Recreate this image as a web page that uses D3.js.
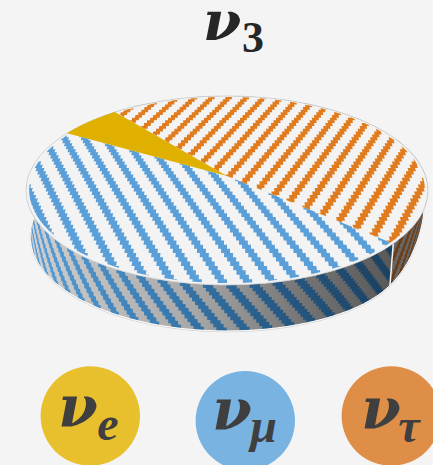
<!DOCTYPE html>
<html>
<head>
<meta charset="utf-8">
<script src="https://cdnjs.cloudflare.com/ajax/libs/d3/7.8.5/d3.min.js"></script>
<style>
  html, body { margin: 0; padding: 0; background: #f4f4f4; }
  svg { display: block; }
  text { font-family: "Liberation Serif", serif; font-weight: bold; }
  text.nu { font-family: "DejaVu Serif", serif; font-style: italic; }
</style>
</head>
<body>
<script>
let width = 433;
let height = 465;

// share of each flavour in the mass state (percent)
let flavours = ["e", "tau", "mu"];
let shares = [5.8, 47.3, 46.9];
let faceColors = ["#e0b000", "#e07b1e", "#5b9fd8"];
let legendFlavours = ["e", "mu", "tau"];
let legendGlyphs = ["e", "μ", "τ"];
let legendColors = ["#e8c02e", "#78b3e2", "#df8e48"];

let svg = d3.select("body").append("svg")
            .attr("width", width)
            .attr("height", height);
let defs = svg.append("defs");

// the disc is tilted, so a plain ellipse won't do: the hub sits above the ellipse centre
let tilt = 0.153;
let depth = 46;
let shrink = 0.98;  // the underside looks slightly narrower than the top
let centerX = 227;
let xDisc = d3.scaleLinear().domain([-1, 1]).range([28.4, 425.6]);
let yDisc = d3.scaleLinear().domain([-1, 1]).range([268.3, 83.7]);

function project(x, y) {
  let w = 1 + tilt * y;
  return [xDisc(x / w), yDisc(y / w)];
}
function rim(a, r = 1) { return project(r * Math.sin(a), r * Math.cos(a)); }
// point on the wall below p, f=0 at the top rim and f=1 at the bottom rim
function lower(p, f) {
  let s = 1 + (shrink - 1) * f;
  let dx = Math.max(0, p[0] - centerX) / 199;
  let taper = 1 - 0.55 * Math.pow(dx, 10);  // wall gets thin towards the right end
  return [centerX + (p[0] - centerX) * s, p[1] + depth * taper * f];
}
function down(p) { return lower(p, 1); }
function arcPoints(a0, a1, r = 1) {
  return d3.range(0, 81).map(i => rim(a0 + (a1 - a0) * i / 80, r));
}

let line = d3.line();
let closed = pts => line(pts) + "Z";

let pie = d3.pie().sort(null)
            .startAngle(-60 * Math.PI / 180)
            .endAngle(300 * Math.PI / 180);
let slices = pie(shares);
slices.forEach((s, i) => { s.flavour = flavours[i]; s.color = faceColors[i]; });

function facePath(s, r = 1) {
  return closed([project(0, 0)].concat(arcPoints(s.startAngle, s.endAngle, r)));
}
function wallPath(s) {
  let top = arcPoints(s.startAngle, s.endAngle);
  return closed(top.concat(top.map(down).reverse()));
}

slices.forEach(s => {
  defs.append("clipPath").attr("id", "face-" + s.flavour)
      .append("path").attr("d", facePath(s, 0.985));
  defs.append("clipPath").attr("id", "wall-" + s.flavour)
      .append("path").attr("d", wallPath(s));
});

let wallBlue = defs.append("linearGradient").attr("id", "wallBlue")
    .attr("gradientUnits", "userSpaceOnUse")
    .attr("x1", 28).attr("x2", 395).attr("y1", 0).attr("y2", 0);
[[0, "#d0d0d0"], [0.45, "#a8a8a8"], [0.75, "#747474"], [1, "#585858"]].forEach(d =>
  wallBlue.append("stop").attr("offset", d[0]).attr("stop-color", d[1]));

let stripeBlue = defs.append("linearGradient").attr("id", "stripeBlue")
    .attr("gradientUnits", "userSpaceOnUse")
    .attr("x1", 28).attr("x2", 395).attr("y1", 0).attr("y2", 0);
[[0, "#5b9fd8"], [0.35, "#3a7db4"], [0.65, "#285c88"], [1, "#1b3f5e"]].forEach(d =>
  stripeBlue.append("stop").attr("offset", d[0]).attr("stop-color", d[1]));

// outer bevel under the wall
let bottomRim = arcPoints(Math.PI / 2 - 0.2, Math.PI * 1.5 + 0.2).map(down);

// walls
let walls = svg.append("g");
slices.forEach(s => {
  let base = s.flavour == "mu" ? "url(#wallBlue)" : s.flavour == "tau" ? "#666666" : "#8a7000";
  walls.append("path").attr("d", wallPath(s)).attr("fill", base);
});

// stepped stripe running down the wall, keyed by its angle on the top rim
function wallStripe(a, lean, span) {
  let steps = 13;
  let left = [], right = [];
  d3.range(steps).forEach(j => {
    let f0 = j / steps, f1 = (j + 1) / steps;
    let l = a + lean * f0;
    let pl = rim(l), pr = rim(l + span);
    left.push(lower(pl, f0), lower(pl, f1));
    right.push(lower(pr, f0), lower(pr, f1));
  });
  return closed(left.concat(right.reverse()));
}

let blueWallStripes = walls.append("g").attr("clip-path", "url(#wall-mu)");
blueWallStripes.selectAll("path")
  .data(d3.range(1.9, 5.0, 0.1))
  .enter().append("path")
  .attr("d", a => wallStripe(a, -0.17, 0.045))
  .attr("fill", "url(#stripeBlue)");

let orangeWallStripes = walls.append("g").attr("clip-path", "url(#wall-tau)");
orangeWallStripes.selectAll("path")
  .data(d3.range(1.3, 2.5, 0.09))
  .enter().append("path")
  .attr("d", a => wallStripe(a, 0.17, 0.04))
  .attr("fill", "#6e3b10");

// white seam between the two wall colours
let seam = rim(slices[1].endAngle);
walls.append("path").attr("d", line([seam, down(seam)]))
     .attr("stroke", "#f4f4f4").attr("stroke-width", 1.5);

walls.append("path").attr("d", line(bottomRim))
     .attr("fill", "none").attr("stroke", "#c9c9c9").attr("stroke-width", 0.8)
     .attr("transform", "translate(0,0.8)");
walls.append("path").attr("d", line(bottomRim))
     .attr("fill", "none").attr("stroke", "#ffffff").attr("stroke-width", 1);

// top face
let face = svg.append("g");
face.append("path").attr("d", closed(arcPoints(0, 2 * Math.PI)))
    .attr("fill", "#f3f3f3").attr("stroke", "#cfcfcf").attr("stroke-width", 0.8);

// stepped stripe across the disc: x = c + slope * y, parallel on the disc so it fans on screen
function faceStripe(c, slope, span) {
  let dy = 0.036;
  let left = [], right = [];
  d3.range(-1.1, 1.1, dy).forEach(y => {
    let x = c + slope * y;
    left.push(project(x, y), project(x, y + dy));
    right.push(project(x + span, y), project(x + span, y + dy));
  });
  return closed(left.concat(right.reverse()));
}

let blueStripes = face.append("g").attr("clip-path", "url(#face-mu)");
blueStripes.selectAll("path")
  .data(d3.range(-1.6, 1.6, 0.108))
  .enter().append("path")
  .attr("d", c => faceStripe(c, -0.375, 0.04))
  .attr("fill", "#5b9fd8");

let orangeStripes = face.append("g").attr("clip-path", "url(#face-tau)");
orangeStripes.selectAll("path")
  .data(d3.range(-1.6, 1.6, 0.1))
  .enter().append("path")
  .attr("d", c => faceStripe(c, 0.41, 0.038))
  .attr("fill", "#e07b1e");

let gold = slices.find(s => s.flavour == "e");
face.append("path").attr("d", facePath(gold)).attr("fill", gold.color);

// title
svg.append("text").attr("class", "nu").attr("x", 203).attr("y", 40).attr("fill", "#262626")
   .attr("font-size", 55).text("ν");
svg.append("text").attr("x", 242).attr("y", 52).attr("fill", "#262626")
   .attr("font-size", 44).text("3");

// legend
let legendCenter = { e: [90.3, 416], mu: [245.3, 420.7], tau: [391.3, 416] };
let nuAt = { e: [-32, 11], mu: [-33, 9.5], tau: [-30, 13] };
let subAt = { e: [7, 24], mu: [5, 21], tau: [7, 26] };

let legend = svg.selectAll("g.legend")
  .data(legendFlavours)
  .enter().append("g").attr("class", "legend")
  .attr("transform", d => `translate(${legendCenter[d][0]},${legendCenter[d][1]})`);

legend.append("circle").attr("r", 49.7).attr("fill", (d, i) => legendColors[i]);
legend.append("text").attr("class", "nu")
      .attr("x", d => nuAt[d][0]).attr("y", d => nuAt[d][1])
      .attr("font-size", 57).attr("fill", "#3f3f3f").text("ν");
legend.append("text")
      .attr("x", d => subAt[d][0]).attr("y", d => subAt[d][1])
      .attr("font-size", 48).attr("font-style", "italic").attr("fill", "#3f3f3f")
      .text((d, i) => legendGlyphs[i]);
</script>
</body>
</html>
